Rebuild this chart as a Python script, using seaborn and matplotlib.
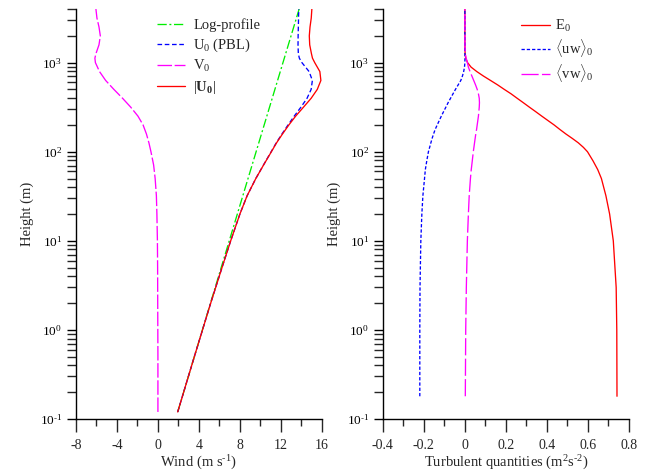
import numpy as np
import matplotlib
matplotlib.use("Agg")
import matplotlib.pyplot as plt
import matplotlib.ticker as mticker
import seaborn as sns

# ---- left panel: wind profiles ----
z_log = [0.12, 1, 10, 100, 1000, 4000]
u_log = [1.93, 4.34, 6.96, 9.58, 12.2, 13.78]

z_wind = [0.12, 0.2, 0.5, 1, 2, 5, 10, 20, 32, 50, 71, 100, 126, 158, 200,
          251, 316, 398, 501, 631, 794, 1000, 1122, 1259, 1585, 1995, 2512,
          3162, 4000]
u0_pbl = [1.93, 2.51, 3.55, 4.35, 5.15, 6.25, 7.1, 8.0, 8.7, 9.55, 10.3, 11.05,
          11.55, 12.1, 12.7, 13.3, 13.95, 14.55, 14.95, 15.07, 14.75, 14.05,
          13.8, 13.7, 13.67, 13.68, 13.7, 13.72, 13.74]
v0 = [0.0, 0.0, 0.0, -0.01, -0.02, -0.03, -0.05, -0.1, -0.15, -0.27, -0.42,
      -0.68, -0.88, -1.12, -1.45, -1.95, -2.65, -3.45, -4.3, -5.1, -5.7, -6.1,
      -6.15, -6.05, -5.75, -5.62, -5.75, -5.95, -6.05]
u0_abs = [1.93, 2.51, 3.55, 4.35, 5.15, 6.25, 7.1, 8.0, 8.7, 9.55, 10.31, 11.07,
          11.58, 12.15, 12.78, 13.44, 14.2, 14.95, 15.55, 15.9, 15.8, 15.3,
          15.08, 14.98, 14.81, 14.77, 14.84, 14.96, 15.02]

# ---- right panel: turbulent quantities ----
z_turb = [0.18, 1, 3, 10, 20, 32, 50, 63, 79, 100, 112, 126, 141, 158, 178,
          200, 224, 251, 282, 316, 355, 398, 447, 501, 562, 631, 708, 794, 891,
          1000, 1122, 1259, 1585, 2000, 4000]
e0 = [0.742, 0.741, 0.738, 0.724, 0.706, 0.688, 0.666, 0.648, 0.625, 0.598,
      0.578, 0.553, 0.524, 0.493, 0.463, 0.435, 0.405, 0.375, 0.345, 0.315,
      0.285, 0.255, 0.225, 0.192, 0.16, 0.125, 0.09, 0.058, 0.03, 0.013,
      0.004, 0.001, 0.0, 0.0, 0.0]
uw0 = [-0.22, -0.22, -0.219, -0.215, -0.21, -0.205, -0.197, -0.193, -0.186,
       -0.178, -0.172, -0.166, -0.16, -0.153, -0.145, -0.135, -0.125, -0.115,
       -0.104, -0.093, -0.082, -0.07, -0.058, -0.046, -0.033, -0.02, -0.012,
       -0.006, -0.002, 0.0, 0.0, 0.0, 0.0, 0.0, 0.0]
vw0 = [0.002, 0.004, 0.007, 0.012, 0.017, 0.021, 0.027, 0.031, 0.036, 0.041,
       0.044, 0.047, 0.05, 0.053, 0.057, 0.06, 0.063, 0.066, 0.068, 0.07,
       0.071, 0.07, 0.066, 0.06, 0.052, 0.043, 0.034, 0.025, 0.017, 0.012,
       0.006, 0.002, 0.0, 0.0, 0.0]

sns.set_style("ticks")
plt.rcParams["font.family"] = ["Liberation Serif", "DejaVu Serif"]
plt.rcParams["mathtext.fontset"] = "custom"
plt.rcParams["mathtext.rm"] = "Liberation Serif"
plt.rcParams["mathtext.it"] = "Liberation Serif:italic"
plt.rcParams["mathtext.bf"] = "Liberation Serif:bold"
plt.rcParams["axes.unicode_minus"] = False

fig = plt.figure(figsize=(6.49, 4.71), dpi=100)
ax1 = fig.add_axes([0.117, 0.1104, 0.379, 0.8705])
ax2 = fig.add_axes([0.590, 0.1104, 0.379, 0.8705])

lw = 0.95
sns.lineplot(x=u_log, y=z_log, ax=ax1, sort=False, estimator=None, color="#00ee00",
             lw=lw, linestyle=(0, (7, 2, 1.5, 2)), label="Log-profile")
sns.lineplot(x=u0_pbl, y=z_wind, ax=ax1, sort=False, estimator=None, color="#0000ff",
             lw=lw, linestyle=(0, (3.5, 2)), label=r"U$_0$ (PBL)")
sns.lineplot(x=v0, y=z_wind, ax=ax1, sort=False, estimator=None, color="#ff00ff",
             lw=lw, linestyle=(0, (11, 2)), label=r"V$_0$")
sns.lineplot(x=u0_abs, y=z_wind, ax=ax1, sort=False, estimator=None, color="#ff0000",
             lw=lw, label=r"$|\mathbf{U_0}|$")

sns.lineplot(x=e0, y=z_turb, ax=ax2, sort=False, estimator=None, color="#ff0000",
             lw=lw, label=r"E$_0$")
sns.lineplot(x=uw0, y=z_turb, ax=ax2, sort=False, estimator=None, color="#0000ff",
             lw=lw, linestyle=(0, (2.5, 1.5)), label=r"$\langle$uw$\rangle_0$")
sns.lineplot(x=vw0, y=z_turb, ax=ax2, sort=False, estimator=None, color="#ff00ff",
             lw=lw, linestyle=(0, (13, 2.5)), label=r"$\langle$vw$\rangle_0$")


def log_label(v, pos):
    e = int(round(np.log10(v)))
    return r"10$^{%s}$" % ("\u2011" + str(-e) if e < 0 else str(e))


for ax in (ax1, ax2):
    ax.set_yscale("log")
    ax.set_ylim(0.1, 4000)
    ax.yaxis.set_major_locator(mticker.LogLocator(base=10, numticks=10))
    ax.yaxis.set_major_formatter(mticker.FuncFormatter(log_label))
    ax.yaxis.set_minor_locator(mticker.LogLocator(base=10, subs=np.arange(2, 10), numticks=10))
    ax.yaxis.set_minor_formatter(mticker.NullFormatter())
    sns.despine(ax=ax)
    for s in ("left", "bottom"):
        ax.spines[s].set_color("black")
        ax.spines[s].set_linewidth(1.0)
    ax.tick_params(axis="y", which="major", direction="out", length=6.5, width=1.0,
                   labelsize=9.5, colors="black")
    ax.tick_params(axis="y", which="minor", direction="out", length=6.5, width=1.0)
    ax.tick_params(axis="x", which="major", direction="out", length=9.5, width=1.0,
                   labelsize=10, pad=5)
    ax.tick_params(axis="x", which="minor", direction="out", length=5, width=1.0)
    ax.set_ylabel("Height (m)", fontsize=10.5)

ax1.set_xlim(-8, 16)
ax1.xaxis.set_major_locator(mticker.MultipleLocator(4))
ax1.xaxis.set_minor_locator(mticker.MultipleLocator(2))
ax1.set_xlabel("Wind (m s$^{\u20111}$)", fontsize=10.5, labelpad=1)

ax2.set_xlim(-0.4, 0.8)
ax2.xaxis.set_major_locator(mticker.MultipleLocator(0.2))
ax2.xaxis.set_minor_locator(mticker.MultipleLocator(0.1))
ax2.xaxis.set_major_formatter(mticker.FuncFormatter(lambda v, p: "0" if abs(v) < 1e-9 else f"{v:.1f}"))
ax2.set_xlabel("Turbulent quantities (m$^2$s$^{\u20112}$)", fontsize=10.5, labelpad=1)

ax1.legend(loc="upper left", bbox_to_anchor=(0.30, 0.995), frameon=False, fontsize=10.5,
           handlelength=1.9, handletextpad=0.6, labelspacing=0.3, borderpad=0)
ax2.legend(loc="upper left", bbox_to_anchor=(0.53, 0.995), frameon=False, fontsize=10.5,
           handlelength=2.0, handletextpad=0.35, labelspacing=0.2, borderpad=0)

fig.savefig("out.png", dpi=100)
